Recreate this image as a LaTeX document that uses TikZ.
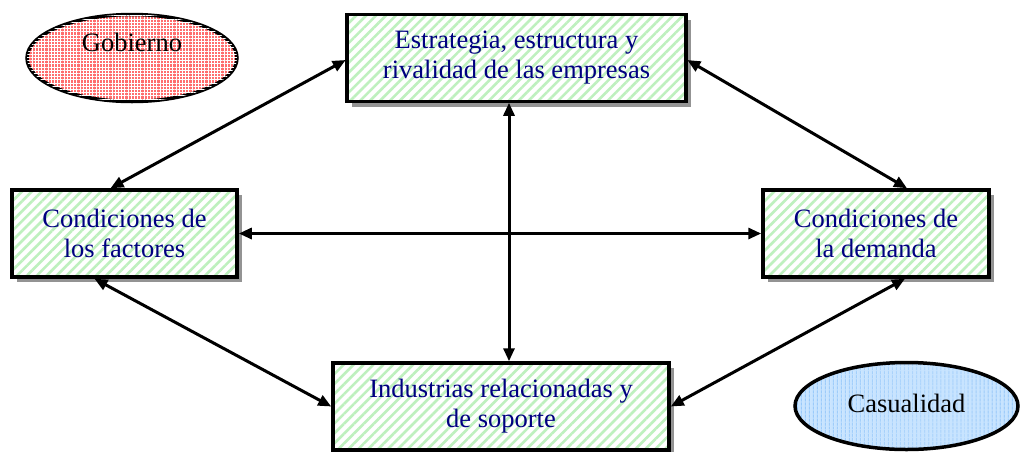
\documentclass[tikz,border=0pt]{standalone}
\usepackage{fontspec}
\setmainfont{Liberation Serif}
\usetikzlibrary{shapes.geometric,patterns.meta,shadows,arrows.meta,calc}
\definecolor{navytext}{RGB}{0,0,128}
\definecolor{stripegreen}{RGB}{190,240,190}
\definecolor{dotred}{RGB}{255,110,110}
\definecolor{lightblue}{RGB}{200,228,255}
\definecolor{blueline}{RGB}{150,200,250}
\tikzset{
  factor/.style={
    drop shadow={shadow xshift=5pt, shadow yshift=-5pt, fill=gray!85, opacity=1},
    preaction={fill=white},
    draw=black, line width=3.5pt, inner sep=0pt,
    minimum height=87pt, align=center, text=navytext,
    font=\fontsize{26.5}{30}\selectfont,
    pattern={Lines[angle=45,distance=7pt,line width=2.6pt]},
    pattern color=stripegreen},
  extra/.style={ellipse, draw=black, line width=3.5pt, inner sep=0pt,
    minimum width=210pt, minimum height=87pt},
  lbl/.style={font=\fontsize{26.5}{30}\selectfont, text=black},
  arr/.style={line width=3pt, {Triangle[length=13pt,width=11pt]}-{Triangle[length=13pt,width=11pt]}}
}
\begin{document}
\begin{tikzpicture}[x=1pt,y=-1pt]
\useasboundingbox (0,0) rectangle (1020,451);
% extra factors
\node[extra, preaction={fill=dotred},
  pattern={Lines[angle=90,distance=3.2pt,line width=0.9pt]}, pattern color=white,
  postaction={pattern={Lines[angle=0,distance=3.2pt,line width=0.9pt]}, pattern color=white}]
  (gob) at (132,58) {};
\node[lbl] (gobt) at (132,42) {Gobierno};
\node[extra, minimum width=223pt, preaction={fill=lightblue},
  pattern={Lines[angle=90,distance=4pt,line width=1.2pt]}, pattern color=blueline]
  (cas) at (906.5,406) {};
\node[lbl] (cast) at (906.5,403) {Casualidad};
% main boxes
\node[factor, minimum width=339pt] (top) at (516.5,58) {Estrategia, estructura y\\rivalidad de las empresas};
\node[factor, minimum width=225pt] (left) at (124.5,233.5) {Condiciones de\\los factores};
\node[factor, minimum width=226pt] (right) at (876,233.5) {Condiciones de\\la demanda};
\node[factor, minimum width=336pt] (bot) at (501,406.5) {Industrias relacionadas y\\de soporte};
\coordinate (mid) at (509,0);
% connectors
\draw[arr] ([yshift=-2pt]top.west) -- ([xshift=-14pt]left.north);
\draw[arr] ([yshift=-2pt]top.east) -- ([xshift=31pt]right.north);
\draw[arr] (top.south -| mid) -- (bot.north -| mid);
\draw[arr] (left.east) -- (right.west);
\draw[arr] ([xshift=-30pt]left.south) -- (bot.west);
\draw[arr] ([xshift=29pt]right.south) -- (bot.east);
\end{tikzpicture}
\end{document}
